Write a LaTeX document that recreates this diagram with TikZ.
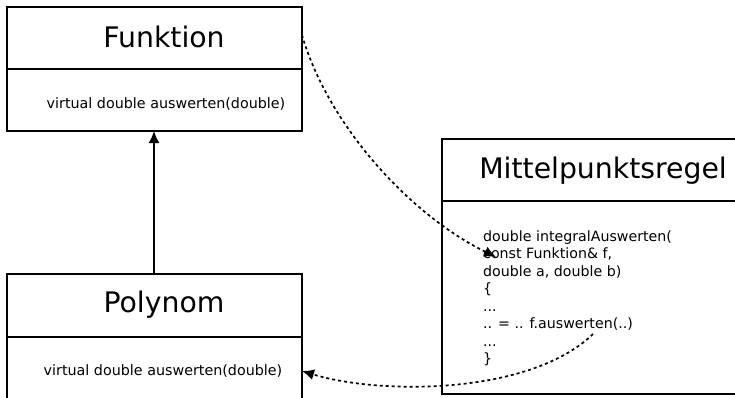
\documentclass[tikz,border=0pt]{standalone}
\usepackage{fontspec}
\setmainfont{DejaVu Sans}
\usetikzlibrary{arrows.meta}
\begin{document}
\begin{tikzpicture}[x=1pt,y=-1pt,
  boxline/.style={draw=black,line width=1.6pt},
  title/.style={anchor=base,inner sep=0pt,font=\fontsize{28.3}{30}\selectfont},
  method/.style={anchor=base,inner sep=0pt,font=\fontsize{14.3}{16}\selectfont},
  code/.style={anchor=base west,inner sep=0pt,font=\fontsize{14.2}{16}\selectfont},
  dotarrow/.style={line width=1.7pt,dash pattern=on 3pt off 3pt,-{Latex[length=12pt,width=11pt]}},
  inherit/.style={line width=1.6pt,-{Latex[length=12pt,width=11pt]}}]
\useasboundingbox (0,0) rectangle (735,397);
\begin{scope}
\clip (0,0) rectangle (735,397);
% Funktion
\draw[boxline] (7,7) rectangle (302,131);
\draw[boxline] (7,69) -- (302,69);
% Polynom
\draw[boxline] (7,274) rectangle (302,420);
\draw[boxline] (7,337) -- (302,337);
% Mittelpunktsregel
\draw[boxline] (442,139) rectangle (760,394);
\draw[boxline] (442,201) -- (760,201);
\end{scope}
\node[title] (tf) at (164,47) {Funktion};
\node[method] (mf) at (166,108) {virtual double auswerten(double)};
\node[title] (tp) at (164,312) {Polynom};
\node[method] (mp) at (163,375) {virtual double auswerten(double)};
\node[title] (tm) at (603,178) {Mittelpunktsregel};
\node[code] (c1) at (483,241) {double integralAuswerten(};
\node[code] (c2) at (483,258.5) {const Funktion\& f,};
\node[code] (c3) at (483,276) {double a, double b)};
\node[code] (c4) at (483,293.5) {\{};
\node[code] (c5) at (483,311) {...};
\node[code] (c6) at (483,328.5) {.. = .. f.auswerten(..)};
\node[code] (c7) at (483,346) {...};
\node[code] (c8) at (483,363.5) {\}};
\coordinate (fbot) at (154,131);
\coordinate (ptop) at (154,274);
\draw[inherit] (ptop) -- (fbot);
\coordinate (fright) at (302,35);
\coordinate (ctarget) at (496,257);
\draw[dotarrow] (fright) .. controls (328,125) and (410,215) .. (ctarget);
\coordinate (callsrc) at (593,334);
\coordinate (pright) at (302,371);
\draw[dotarrow] (callsrc) .. controls (530,395) and (380,395) .. (pright);
\end{tikzpicture}
\end{document}
